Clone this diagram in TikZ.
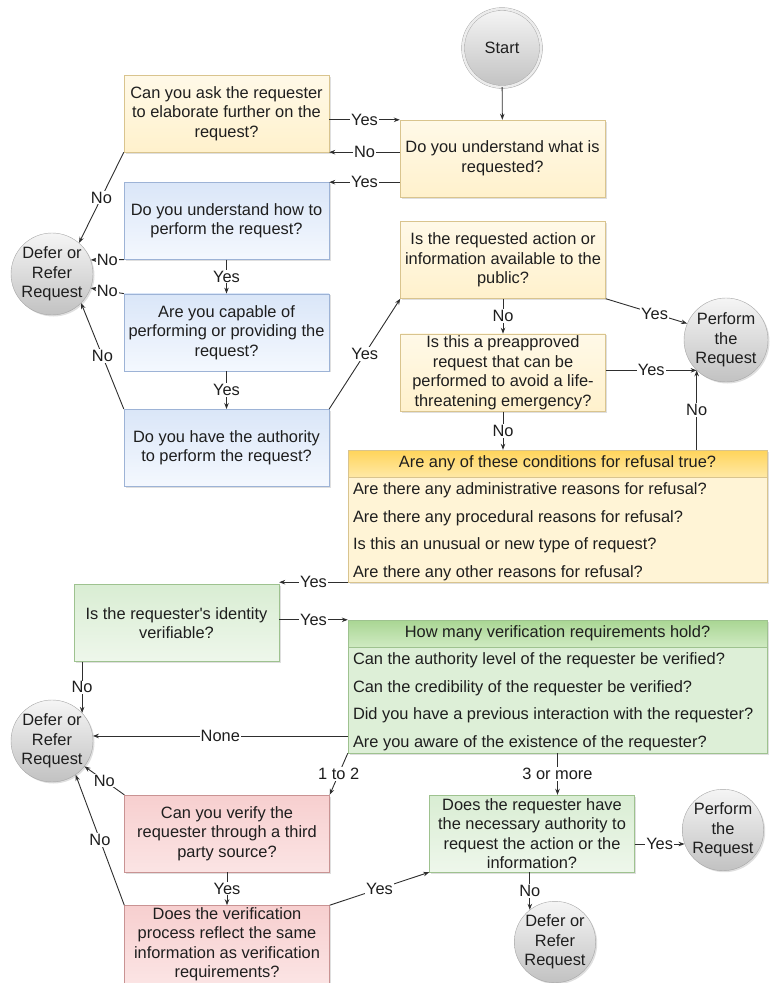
\documentclass[tikz,border=0pt]{standalone}
\usepackage{fontspec}
\setmainfont{Liberation Sans}
\usetikzlibrary{positioning,arrows.meta,shadows}

\definecolor{txt}{HTML}{1E1E1E}
\definecolor{wire}{HTML}{2E2E2E}
\definecolor{ylwline}{HTML}{D9C48E}
\definecolor{ylwtop}{HTML}{FFF9E8}
\definecolor{ylwbot}{HTML}{FFF1CC}
\definecolor{bluline}{HTML}{9DB3D6}
\definecolor{blutop}{HTML}{DAE6F8}
\definecolor{blubot}{HTML}{F4F8FE}
\definecolor{grnline}{HTML}{9EC28F}
\definecolor{grntop}{HTML}{D9EDD3}
\definecolor{grnbot}{HTML}{EEF7EB}
\definecolor{redline}{HTML}{C99393}
\definecolor{redtop}{HTML}{F7CFCF}
\definecolor{redbot}{HTML}{FBE4E4}
\definecolor{refhdtop}{HTML}{FFD45A}
\definecolor{refhdbot}{HTML}{FFE9A6}
\definecolor{refbody}{HTML}{FFF4D6}
\definecolor{verhdtop}{HTML}{A9D693}
\definecolor{verhdbot}{HTML}{CFEAC2}
\definecolor{verbody}{HTML}{DDEFD7}

\begin{document}
\begin{tikzpicture}[x=1pt,y=-1pt,>={Stealth[length=6pt,width=4.5pt]},
  font=\fontsize{16.4}{19.5}\selectfont,text=txt,
  every edge/.style={draw=wire,->,line width=0.9pt},
  shade/.style={drop shadow={shadow xshift=1.5pt,shadow yshift=-1.5pt,opacity=0.25}},
  box/.style={draw,shade,minimum width=205pt,minimum height=77pt,align=center,inner sep=2pt},
  ylw/.style={box,draw=ylwline,top color=ylwtop,bottom color=ylwbot},
  blu/.style={box,draw=bluline,top color=blutop,bottom color=blubot},
  grn/.style={box,draw=grnline,top color=grntop,bottom color=grnbot},
  rd/.style={box,draw=redline,top color=redtop,bottom color=redbot},
  circ/.style={circle,shade,draw=gray!70,top color=gray!8,bottom color=gray!48,
    minimum size=82pt,inner sep=0pt,align=center},
  tbl/.style={draw,shade,minimum width=419pt,inner sep=0pt},
  tblhd/.style={draw,minimum width=419pt,minimum height=27pt,inner sep=0pt,anchor=north},
  row/.style={minimum height=27pt,inner xsep=5pt,inner ysep=0pt,text height=11.5pt,text depth=3.5pt},
  lbl/.style={fill=white,inner sep=1pt}]

\useasboundingbox (0,0) rectangle (769,983);

% first part: understanding and capability
\node[circ,draw=gray!70,double=gray!15,double distance=2.5pt,minimum size=78pt](start) at (502,48){Start};
\node[ylw](q1) at (502.5,158.5){Do you understand what is\\requested?};
\node[ylw](q0) at (226.5,113.5){Can you ask the requester\\to elaborate further on the\\request?};
\node[blu](q2)[below=30pt of q0]{Do you understand how to\\perform the request?};
\node[blu](q3)[below=34pt of q2]{Are you capable of\\performing or providing the\\request?};
\node[blu](q4)[below=38pt of q3]{Do you have the authority\\to perform the request?};
\node[circ](d1) at (52,274){Defer or\\Refer\\Request};

% public / emergency / refusal
\node[ylw](p1) at (503,260){Is the requested action or\\information available to the\\public?};
\node[ylw](p2)[below=35pt of p1]{Is this a preapproved\\request that can be\\performed to avoid a life-\\threatening emergency?};
\node[circ,minimum size=84pt](pf1) at (726,340){Perform\\the\\Request};

\node[tbl,draw=ylwline,fill=refbody,minimum height=132pt](refusal) at (557.5,516){};
\node[tblhd,draw=ylwline,top color=refhdtop,bottom color=refhdbot](refhd) at (refusal.north){Are any of these conditions for refusal true?};
\node[row](ref1)[below right=0pt and 0pt of refhd.south west]{Are there any administrative reasons for refusal?};
\node[row](ref2)[below right=0pt and 0pt of ref1.south west]{Are there any procedural reasons for refusal?};
\node[row](ref3)[below right=0pt and 0pt of ref2.south west]{Is this an unusual or new type of request?};
\node[row](ref4)[below right=0pt and 0pt of ref3.south west]{Are there any other reasons for refusal?};

% identity and verification
\node[grn](id) at (176.5,623){Is the requester\textquotesingle s identity\\verifiable?};
\node[circ](d2) at (52,741){Defer or\\Refer\\Request};

\node[tbl,draw=grnline,fill=verbody,minimum height=133pt](verif) at (557.5,686.5){};
\node[tblhd,draw=grnline,top color=verhdtop,bottom color=verhdbot](verhd) at (verif.north){How many verification requirements hold?};
\node[row](ver1)[below right=0pt and 0pt of verhd.south west]{Can the authority level of the requester be verified?};
\node[row](ver2)[below right=0pt and 0pt of ver1.south west]{Can the credibility of the requester be verified?};
\node[row](ver3)[below right=0pt and 0pt of ver2.south west]{Did you have a previous interaction with the requester?};
\node[row](ver4)[below right=0pt and 0pt of ver3.south west]{Are you aware of the existence of the requester?};

\node[rd](red1) at (227,833.5){Can you verify the\\requester through a third\\party source?};
\node[rd](red2)[below=33pt of red1]{Does the verification\\process reflect the same\\information as verification\\requirements?};
\node[grn](g) at (532,833.5){Does the requester have\\the necessary authority to\\request the action or the\\information?};
\node[circ,minimum size=75pt](pf2) at (723,830){Perform\\the\\Request};
\node[circ,minimum size=75pt](d3) at (555,942){Defer or\\Refer\\Request};

\path(start)edge(q1)
	(q0.east |- q1.north)edge node[lbl]{Yes}(q1.north west)
	(q1.west |- q0.south)edge node[lbl]{No}(q0.south east)
	(q1.west |- q2.north)edge node[lbl]{Yes}(q2.north east)
	(q0.south west)edge node[lbl]{No}(d1.49)
	(q2.south west)edge node[lbl]{No}(d1.20)
	(q2)edge node[lbl]{Yes}(q3)
	(q3.north west)edge node[lbl]{No}(d1.-20)
	(q3)edge node[lbl]{Yes}(q4)
	(q4.north west)edge node[lbl]{No}(d1.-45)
	(q4.north east)edge node[lbl]{Yes}(p1.south west)
	(p1.south east)edge node[lbl,pos=0.6]{Yes}(pf1.157)
	(p1)edge node[lbl]{No}(p2)
	(p2.east |- pf1.226)edge node[lbl]{Yes}(pf1.226)
	(p2.south)edge node[lbl]{No}(p2.south |- refusal.north)
	(refusal.north -| pf1.226)edge node[lbl]{No}(pf1.226)
	(refusal.south west)edge node[lbl]{Yes}(id.north east |- refusal.south west)
	(id.east |- verif.north)edge node[lbl]{Yes}(verif.north west)
	(id.south -| d2.43)edge node[lbl]{No}(d2.43)
	(verif.west |- d2.7)edge node[lbl]{None}(d2.7)
	(verif.south west)edge node[lbl]{1 to 2}(red1.north east)
	(verif.south)edge node[lbl]{3 or more}(verif.south |- g.north)
	(red1.north west)edge node[lbl]{No}(d2.-38)
	(red1)edge node[lbl]{Yes}(red2)
	(red2.north west)edge node[lbl]{No}(d2.-55)
	(red2.north east)edge node[lbl]{Yes}(g.south west)
	(g.east |- pf2.200)edge node[lbl]{Yes}(pf2.200)
	(g.south -| d3.128)edge node[lbl]{No}(d3.128);

\end{tikzpicture}
\end{document}
